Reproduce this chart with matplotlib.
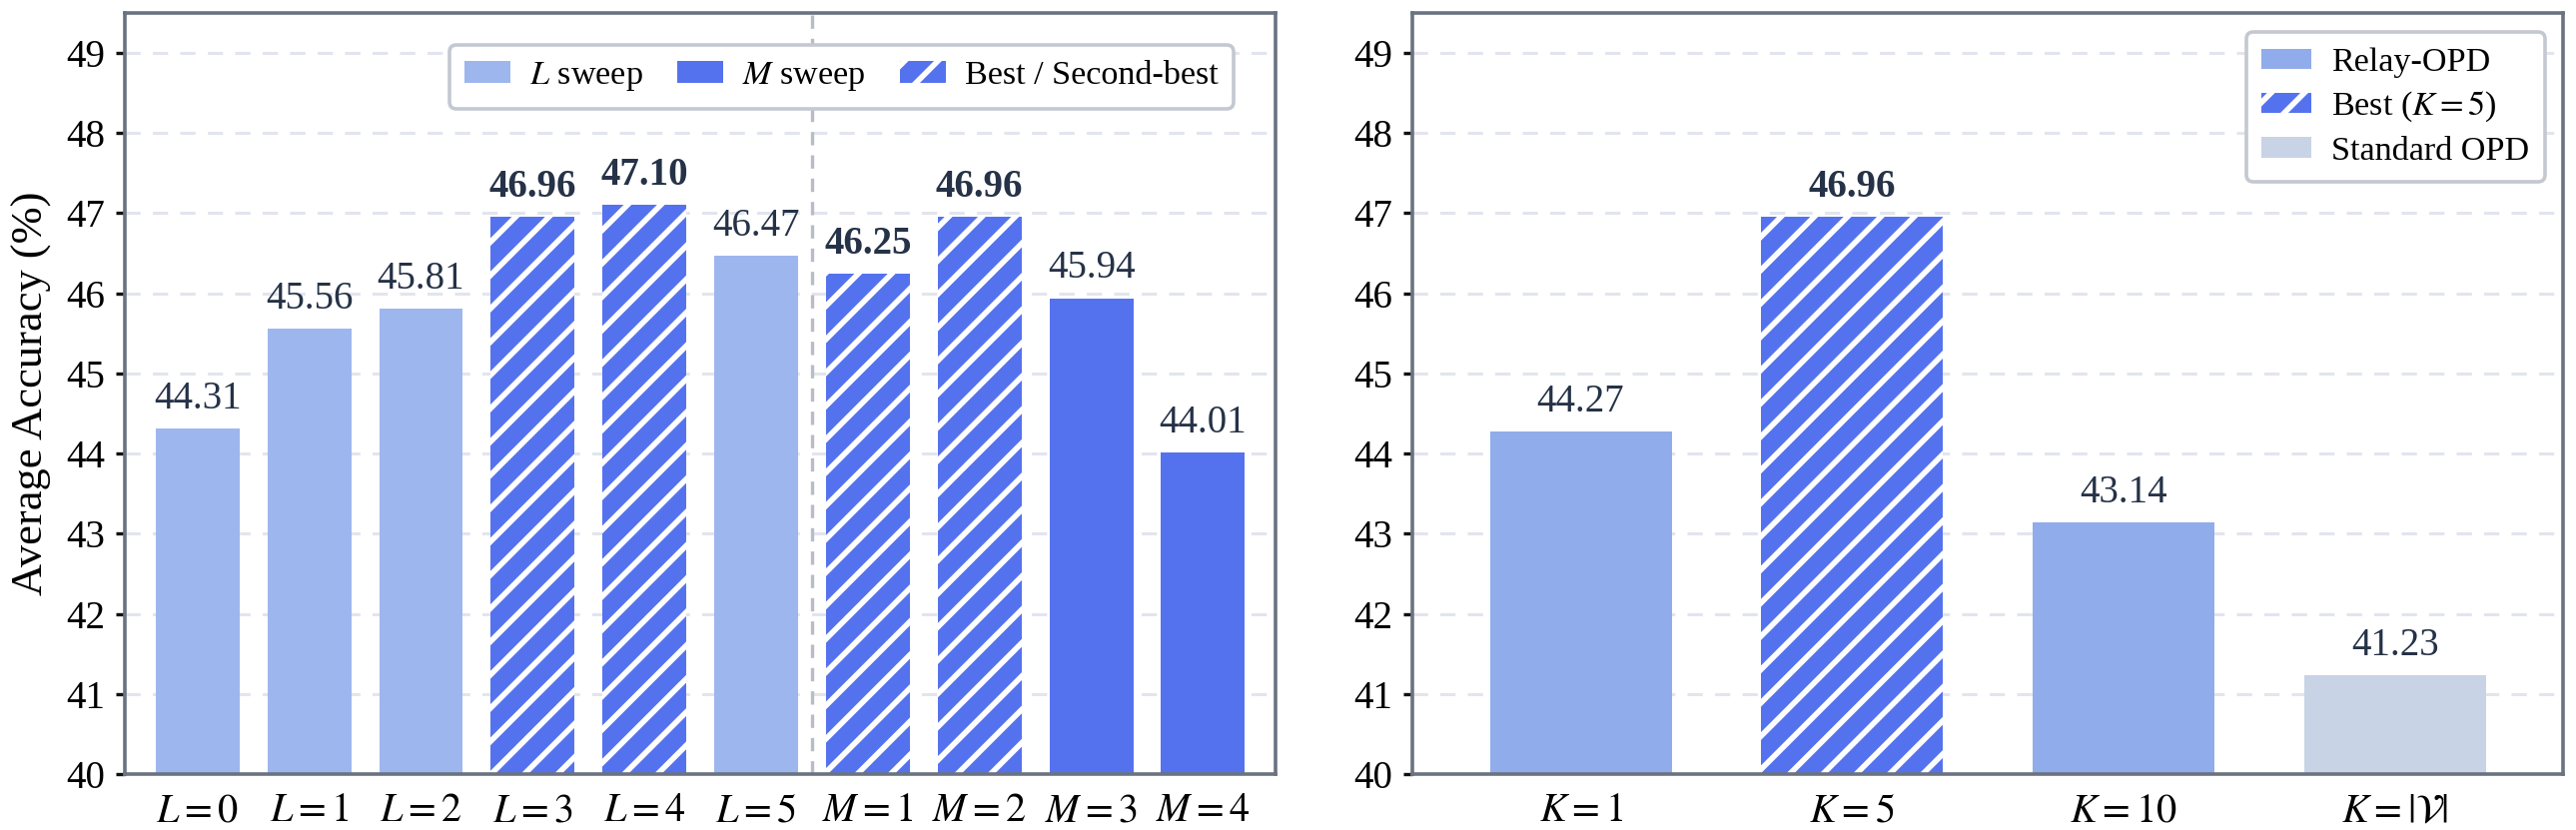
import matplotlib
matplotlib.use('Agg')
import matplotlib.pyplot as plt
from matplotlib.patches import Patch

# ---- data ----
sweep_labels = [r'$L=0$', r'$L=1$', r'$L=2$', r'$L=3$', r'$L=4$', r'$L=5$',
                r'$M=1$', r'$M=2$', r'$M=3$', r'$M=4$']
sweep_values = [44.31, 45.56, 45.81, 46.96, 47.10, 46.47, 46.25, 46.96, 45.94, 44.01]
sweep_group = ['L', 'L', 'L', 'L', 'L', 'L', 'M', 'M', 'M', 'M']
sweep_best = [False, False, False, True, True, False, True, True, False, False]

k_labels = [r'$K=1$', r'$K=5$', r'$K=10$', r'$K=|\mathcal{V}|$']
k_values = [44.27, 46.96, 43.14, 41.23]
k_kind = ['relay', 'best', 'relay', 'standard']

# ---- style ----
plt.rcParams['font.family'] = ['Liberation Serif', 'DejaVu Serif']
plt.rcParams['mathtext.fontset'] = 'stix'
plt.rcParams['hatch.linewidth'] = 2.0

c_L = '#9db6ee'
c_M = '#5572ee'
c_relay = '#91acea'
c_std = '#c8d3e6'
c_text = '#253247'
c_spine = '#6b7280'
c_grid = '#e2e5ee'


def style_axis(ax):
    ax.set_ylim(40, 49.5)
    ax.set_yticks(range(40, 50))
    ax.yaxis.grid(True, linestyle=(0, (5, 4)), color=c_grid, linewidth=1.1)
    ax.set_axisbelow(True)
    for s in ax.spines.values():
        s.set_color(c_spine)
        s.set_linewidth(1.3)
    ax.tick_params(axis='y', labelsize=14, length=3.3, width=1.2, color='#111111', pad=4)
    ax.tick_params(axis='x', labelsize=14.5, length=0, pad=7)


def add_label(ax, x, v, bold):
    ax.annotate(f'{v:.2f}', (x, v), xytext=(0, 4), textcoords='offset points',
                ha='center', va='bottom', fontsize=14, color=c_text,
                fontweight='bold' if bold else 'normal')


def style_legend(leg):
    fr = leg.get_frame()
    fr.set_edgecolor('#c4c8d0')
    fr.set_linewidth(1.3)
    fr.set_alpha(1)


fig = plt.figure(figsize=(2579 / 200, 831 / 200), dpi=200)
ax1 = fig.add_axes([0.0485, 0.0674, 0.4467, 0.917])
ax2 = fig.add_axes([0.5483, 0.0674, 0.4467, 0.917])

# left panel: L / M sweep
for i, (v, g, b) in enumerate(zip(sweep_values, sweep_group, sweep_best)):
    if b:
        ax1.bar(i, v - 40, bottom=40, width=0.75, color=c_M, edgecolor='white',
                linewidth=0, hatch='//')
    else:
        ax1.bar(i, v - 40, bottom=40, width=0.75, color=c_L if g == 'L' else c_M,
                linewidth=0)
    add_label(ax1, i, v, b)
ax1.axvline(5.5, color='#b8bcc8', linestyle=(0, (4, 3)), linewidth=1.2, zorder=1)
ax1.set_xlim(-0.65, len(sweep_values) - 0.35)
ax1.set_xticks(range(len(sweep_labels)))
ax1.set_xticklabels(sweep_labels)
style_axis(ax1)
ax1.set_ylabel('Average Accuracy (%)', fontsize=16, labelpad=5)

h1 = [Patch(facecolor=c_L, linewidth=0, label=r'$L$ sweep'),
      Patch(facecolor=c_M, linewidth=0, label=r'$M$ sweep'),
      Patch(facecolor=c_M, edgecolor='white', linewidth=0, hatch='//',
            label='Best / Second-best')]
leg1 = ax1.legend(handles=h1, ncol=3, loc='upper left', bbox_to_anchor=(0.282, 0.958),
                  borderaxespad=0, fontsize=12.3, frameon=True, fancybox=True,
                  handlelength=1.35, handleheight=0.6, columnspacing=1.0,
                  handletextpad=0.55, borderpad=0.45)
style_legend(leg1)

# right panel: K
kcolors = {'relay': c_relay, 'best': c_M, 'standard': c_std}
for i, (v, kind) in enumerate(zip(k_values, k_kind)):
    if kind == 'best':
        ax2.bar(i, v - 40, bottom=40, width=0.67, color=c_M, edgecolor='white',
                linewidth=0, hatch='//')
    else:
        ax2.bar(i, v - 40, bottom=40, width=0.67, color=kcolors[kind], linewidth=0)
    add_label(ax2, i, v, kind == 'best')
ax2.set_xlim(-0.62, len(k_values) - 0.38)
ax2.set_xticks(range(len(k_labels)))
ax2.set_xticklabels(k_labels)
style_axis(ax2)

h2 = [Patch(facecolor=c_relay, linewidth=0, label='Relay-OPD'),
      Patch(facecolor=c_M, edgecolor='white', linewidth=0, hatch='//',
            label=r'Best ($K=5$)'),
      Patch(facecolor=c_std, linewidth=0, label='Standard OPD')]
leg2 = ax2.legend(handles=h2, loc='upper right', bbox_to_anchor=(0.984, 0.975),
                  borderaxespad=0, fontsize=12.3, frameon=True, fancybox=True,
                  handlelength=1.45, handleheight=0.55, handletextpad=0.6,
                  labelspacing=0.35, borderpad=0.45)
style_legend(leg2)

fig.savefig('out.png', dpi=200)
